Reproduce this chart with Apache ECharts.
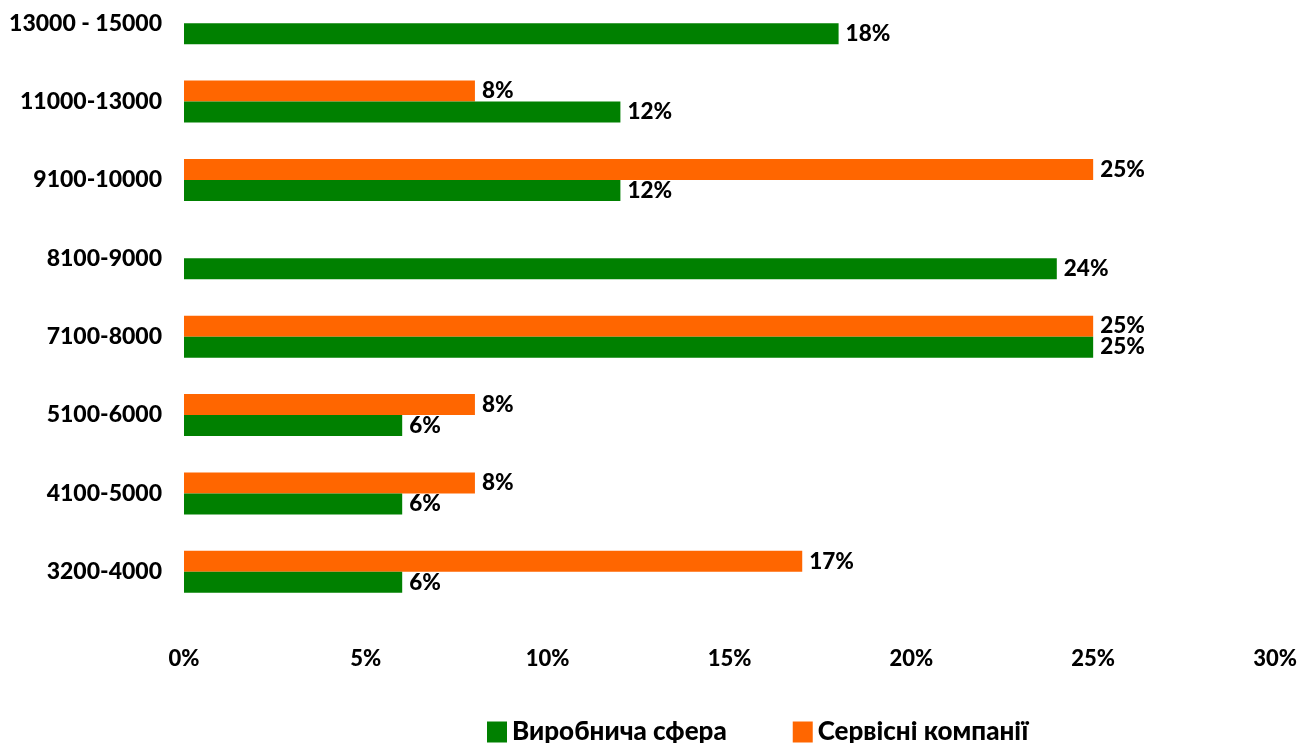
<!DOCTYPE html>
<html>
<head>
<meta charset="utf-8">
<script src="https://cdn.jsdelivr.net/npm/echarts@6/dist/echarts.min.js"></script>
<style>html,body{margin:0;padding:0;background:#fff;overflow:hidden;width:1301px;height:743px}#c{position:absolute;left:0;top:-16px;width:1301px;height:759px}</style>
</head>
<body>
<div id="c"></div>
<script>
var categories = ['3200-4000', '4100-5000', '5100-6000', '7100-8000', '8100-9000', '9100-10000', '11000-13000', '13000 - 15000'];
var productionValues = [6, 6, 6, 25, 24, 12, 12, 18];
var serviceValues = [17, 8, 8, 25, null, 25, 8, null];
var xTicks = ['0%', '5%', '10%', '15%', '20%', '25%', '30%'];
var seriesNames = ['Виробнича сфера', 'Сервісні компанії'];

var FONT = 'Lato, "Open Sans", sans-serif';
var chart = echarts.init(document.getElementById('c'));
var labelStyle = {
  show: true, position: 'right', distance: 7,
  formatter: function (p) { return p.value + '%'; },
  color: '#000', fontSize: 22.5, fontWeight: 900, fontFamily: FONT
};
chart.setOption({
  animation: false,
  grid: { left: 184, right: 26, top: 0, height: 627, containLabel: false },
  legend: {
    data: seriesNames, top: 730, left: 482, itemWidth: 20, itemHeight: 21, itemGap: 66,
    icon: 'rect',
    textStyle: { fontSize: 26, fontWeight: 900, fontFamily: FONT, color: '#000' }
  },
  xAxis: {
    type: 'value', min: 0, max: 30, interval: 5,
    axisLine: { show: false }, axisTick: { show: false }, splitLine: { show: false },
    axisLabel: {
      margin: 37, color: '#000', fontSize: 22, fontWeight: 900, fontFamily: FONT,
      formatter: function (v) { return xTicks[Math.round(v / 5)]; }
    }
  },
  yAxis: {
    type: 'category', data: categories,
    axisLine: { show: false }, axisTick: { show: false },
    axisLabel: { margin: 22, color: '#000', fontSize: 23, fontWeight: 900, fontFamily: FONT }
  },
  series: [
    { name: seriesNames[1], type: 'bar', data: serviceValues, barWidth: 21, barGap: '0%',
      itemStyle: { color: '#FF6600' }, label: labelStyle },
    { name: seriesNames[0], type: 'bar', data: productionValues, barWidth: 21, barGap: '0%',
      itemStyle: { color: '#008000' }, label: labelStyle }
  ]
});
</script>
</body>
</html>
